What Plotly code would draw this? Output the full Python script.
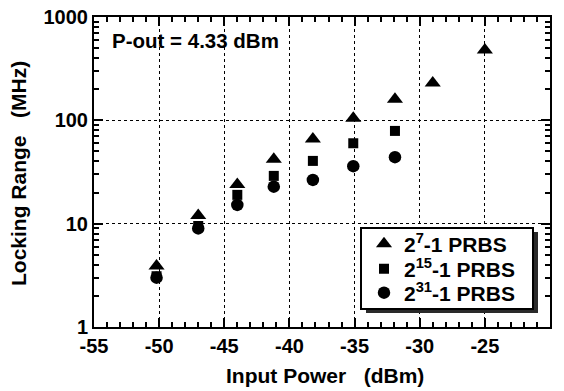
import plotly.graph_objects as go

x_tri = [-50.2, -47, -44, -41.2, -38.2, -35.1, -31.9, -29, -25]
y_tri = [3.9, 12, 24, 42, 66, 105, 160, 230, 480]
x_sq = [-50.2, -47, -44, -41.2, -38.2, -35.1, -31.9]
y_sq = [3.1, 9.5, 19, 29, 40.5, 60, 79]
x_ci = [-50.2, -47, -44, -41.2, -38.2, -35.1, -31.9]
y_ci = [3.0, 9.0, 15.2, 22.8, 26.5, 36, 44]
names = ["2<sup>7</sup>-1 PRBS", "2<sup>15</sup>-1 PRBS", "2<sup>31</sup>-1 PRBS"]
x_ticks = [-55, -50, -45, -40, -35, -30, -25, -20]
x_ticklabels = ["-55", "-50", "-45", "-40", "-35", "-30", "-25", "-20"]
y_ticks = [1, 10, 100, 1000]
y_ticklabels = ["1", "10", "100", "1000"]

FONT = "Liberation Sans, Arial, sans-serif"
L, R, T, B = 94, 550, 17, 327
PW, PH = R - L, B - T

def px(xp):
    return (xp - L) / PW

def py(yp):
    return (B - yp) / PH

fig = go.Figure()
fig.add_trace(go.Scatter(x=x_tri, y=y_tri, mode="markers", name=names[0], legend="legend",
                         marker=dict(symbol="triangle-up", size=14, color="black")))
fig.add_trace(go.Scatter(x=x_sq, y=y_sq, mode="markers", name=names[1], legend="legend2",
                         marker=dict(symbol="square", size=10, color="black")))
fig.add_trace(go.Scatter(x=x_ci, y=y_ci, mode="markers", name=names[2], legend="legend3",
                         marker=dict(symbol="circle", size=12.5, color="black")))

tickfont = dict(family=FONT, size=20, color="black", weight="bold")
titlefont = dict(family=FONT, size=21, color="black", weight="bold")
axis_common = dict(showline=True, linecolor="black", linewidth=2, mirror=True,
                   ticks="inside", ticklen=9, tickwidth=1.5, tickcolor="black",
                   zeroline=False, tickfont=tickfont, automargin=False)

fig.update_xaxes(range=[-55, -20], tickmode="array", tickvals=x_ticks, ticktext=x_ticklabels,
                 showgrid=True, gridcolor="black", griddash="dot", gridwidth=1,
                 minor=dict(ticks="inside", ticklen=5, dtick=1, tick0=-55, tickcolor="black", showgrid=False),
                 **axis_common)
fig.update_yaxes(type="log", range=[0, 3], tickmode="array", tickvals=y_ticks, ticktext=y_ticklabels,
                 showgrid=True, gridcolor="black", griddash="dot", gridwidth=1,
                 minor=dict(ticks="inside", ticklen=5, dtick="D1", tickcolor="black", showgrid=False),
                 **axis_common)

# mirrored top / right axes with ticks
fig.update_layout(
    xaxis2=dict(overlaying="x", side="top", range=[-55, -20], tickmode="array", tickvals=x_ticks,
                showticklabels=False, ticks="inside", ticklen=9, tickwidth=1.5, tickcolor="black",
                showgrid=False, zeroline=False, showline=False, automargin=False,
                minor=dict(ticks="inside", ticklen=5, dtick=1, tick0=-55, tickcolor="black", showgrid=False)),
    yaxis2=dict(overlaying="y", side="right", type="log", range=[0, 3], tickmode="array", tickvals=y_ticks,
                showticklabels=False, ticks="inside", ticklen=9, tickwidth=1.5, tickcolor="black",
                showgrid=False, zeroline=False, showline=False, automargin=False,
                minor=dict(ticks="inside", ticklen=5, dtick="D1", tickcolor="black", showgrid=False)),
)
fig.add_trace(go.Scatter(x=[None], y=[None], xaxis="x2", yaxis="y2", showlegend=False, hoverinfo="skip"))

# axis titles
fig.add_annotation(text="Input Power\u00a0\u00a0\u00a0(dBm)", xref="paper", yref="paper",
                   x=px(325), y=py(376), xanchor="center", yanchor="middle",
                   showarrow=False, font=titlefont)
fig.add_annotation(text="Locking Range\u00a0\u00a0\u00a0(MHz)", xref="paper", yref="paper",
                   x=px(18), y=py(174), xanchor="center", yanchor="middle", textangle=-90,
                   showarrow=False, font=titlefont)

# legend shadow and box
fig.add_shape(type="rect", xref="paper", yref="paper",
              x0=px(366), x1=px(538), y0=py(313), y1=py(232),
              fillcolor="#2a2a2a", line=dict(width=0), layer="above")
fig.add_shape(type="rect", xref="paper", yref="paper",
              x0=px(361), x1=px(533), y0=py(309), y1=py(228),
              fillcolor="white", line=dict(width=2, color="black"), layer="above")

fig.add_annotation(text="P-out = 4.33 dBm", xref="paper", yref="paper",
                   x=px(110), y=py(40), xanchor="left", yanchor="middle",
                   showarrow=False, font=dict(family=FONT, size=20.5, color="black", weight="bold"))

legfont = dict(family=FONT, size=21, color="black", weight="bold")
leg_common = dict(xanchor="left", yanchor="middle", bgcolor="rgba(0,0,0,0)", borderwidth=0,
                  font=legfont, itemsizing="trace")
fig.update_layout(
    width=564, height=391,
    margin=dict(l=L, r=564 - R, t=T, b=391 - B),
    plot_bgcolor="white", paper_bgcolor="white",
    showlegend=True,
    legend=dict(x=px(364), y=py(244), **leg_common),
    legend2=dict(x=px(364), y=py(269), **leg_common),
    legend3=dict(x=px(364), y=py(293), **leg_common),
)

fig.write_html("out.html")
